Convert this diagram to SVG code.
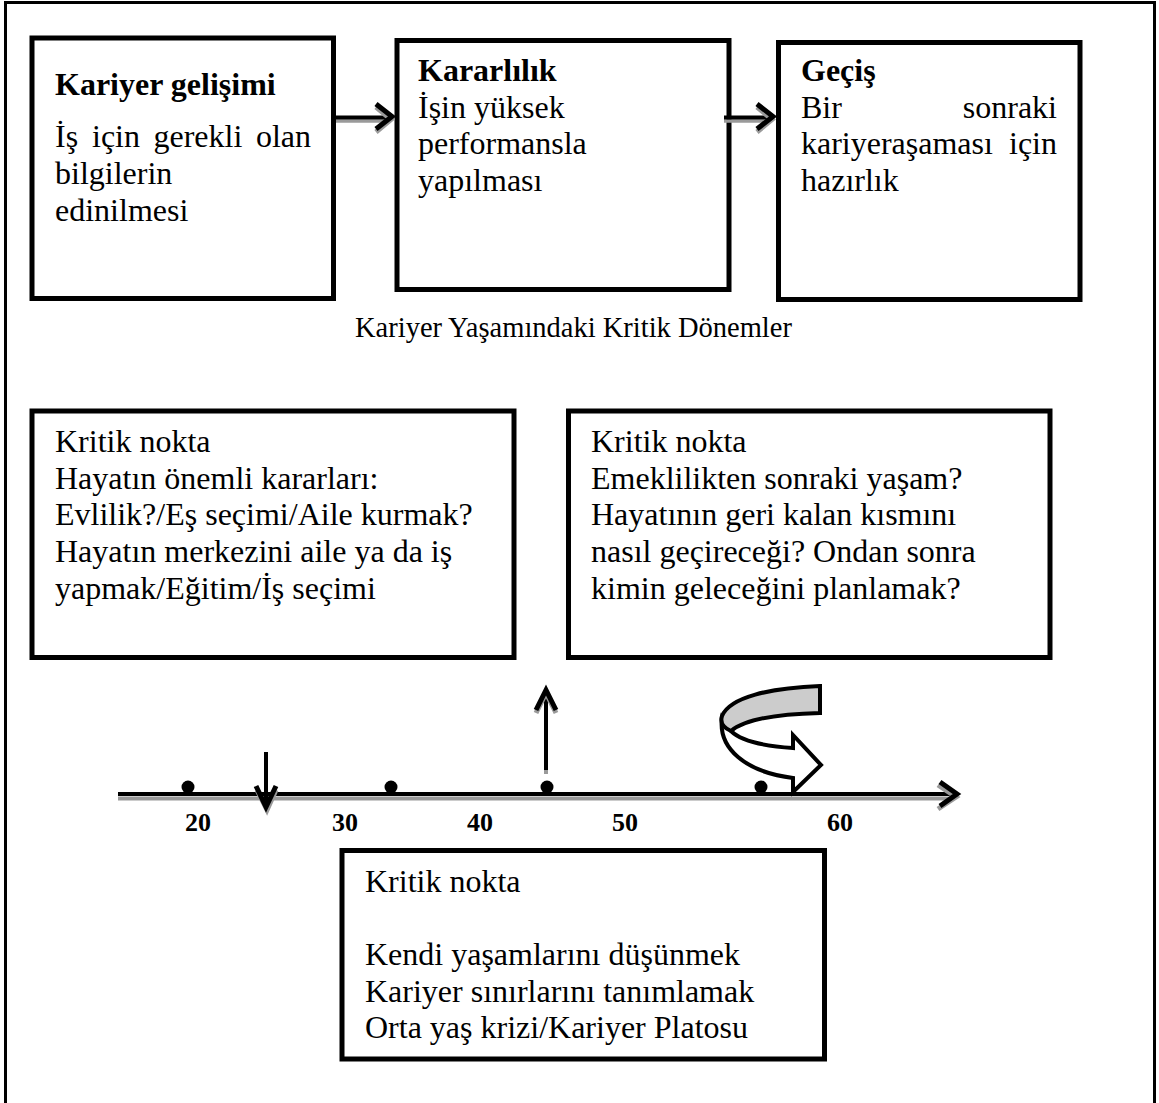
<svg xmlns="http://www.w3.org/2000/svg" width="1159" height="1103" viewBox="0 0 1159 1103">
<style>
.box{fill:#fff;stroke:#000;stroke-width:5}
.t{font-family:"Liberation Serif","Times New Roman",serif;font-size:32px;fill:#000}
.b{font-weight:bold}
.cap{font-size:28.5px}
.num{font-size:26px;font-weight:bold}
.shaft{stroke:#000;stroke-width:4;fill:none}
.shade{stroke:#9a9a9a;fill:none}
.head{stroke:#000;stroke-width:5;fill:none;stroke-linejoin:miter}
.headsh{stroke:#9a9a9a;stroke-width:5;fill:none;stroke-linejoin:miter}
.dot{fill:#000}
</style>
<rect width="1159" height="1103" fill="#fff"/>
<path d="M5.5,1103V2.5H1154.5V1103" fill="none" stroke="#000" stroke-width="3"/>

<g id="career-development">
<rect class="box" x="32" y="38" width="301.5" height="260.5"/>
<text class="t b" x="55" y="95">Kariyer gelişimi</text>
<text class="t" y="147"><tspan x="55">İş</tspan><tspan x="92">için</tspan><tspan x="153.5">gerekli</tspan><tspan x="311" text-anchor="end">olan</tspan></text>
<text class="t" x="55" y="184">bilgilerin</text>
<text class="t" x="55" y="221">edinilmesi</text>
</g>

<g id="commitment">
<rect class="box" x="397" y="40.5" width="332" height="249"/>
<text class="t b" x="418" y="81">Kararlılık</text>
<text class="t" x="418" y="117.5">İşin yüksek</text>
<text class="t" x="418" y="154">performansla</text>
<text class="t" x="418" y="190.5">yapılması</text>
</g>

<g id="transition">
<rect class="box" x="778.5" y="42.5" width="301.5" height="257"/>
<text class="t b" x="801" y="81">Geçiş</text>
<text class="t" y="117.5"><tspan x="801">Bir</tspan><tspan x="1057" text-anchor="end">sonraki</tspan></text>
<text class="t" y="154"><tspan x="801">kariyeraşaması</tspan><tspan x="1057" text-anchor="end">için</tspan></text>
<text class="t" x="801" y="190.5">hazırlık</text>
</g>

<g id="caption">
<text class="t cap" x="355" y="337">Kariyer Yaşamındaki Kritik Dönemler</text>
</g>

<g id="critical-early">
<rect class="box" x="32" y="411" width="482" height="246.5"/>
<text class="t" x="55" y="452">Kritik nokta</text>
<text class="t" x="55" y="488.7">Hayatın önemli kararları:</text>
<text class="t" x="55" y="525.4">Evlilik?/Eş seçimi/Aile kurmak?</text>
<text class="t" x="55" y="562.1">Hayatın merkezini aile ya da iş</text>
<text class="t" x="55" y="598.8">yapmak/Eğitim/İş seçimi</text>
</g>

<g id="critical-late">
<rect class="box" x="568.5" y="411" width="481.5" height="246.5"/>
<text class="t" x="591" y="452">Kritik nokta</text>
<text class="t" x="591" y="488.7">Emeklilikten sonraki yaşam?</text>
<text class="t" x="591" y="525.4">Hayatının geri kalan kısmını</text>
<text class="t" x="591" y="562.1">nasıl geçireceği? Ondan sonra</text>
<text class="t" x="591" y="598.8">kimin geleceğini planlamak?</text>
</g>

<g id="critical-mid">
<rect class="box" x="342" y="850.5" width="482.5" height="208.5"/>
<text class="t" x="365" y="892">Kritik nokta</text>
<text class="t" x="365" y="965">Kendi yaşamlarını düşünmek</text>
<text class="t" x="365" y="1001.7">Kariyer sınırlarını tanımlamak</text>
<text class="t" x="365" y="1038.4">Orta yaş krizi/Kariyer Platosu</text>
</g>

<g id="timeline">
<circle class="dot" cx="188" cy="787" r="6.5"/>
<circle class="dot" cx="391" cy="787" r="6.5"/>
<circle class="dot" cx="547" cy="787" r="6.5"/>
<circle class="dot" cx="761" cy="787" r="6.5"/>
<text class="t num" x="185" y="831">20</text>
<text class="t num" x="332" y="831">30</text>
<text class="t num" x="467" y="831">40</text>
<text class="t num" x="612" y="831">50</text>
<text class="t num" x="827" y="831">60</text>
</g>

<g id="connectors">
<!-- top arrows -->
<line class="shade" x1="336" y1="121" x2="388" y2="121" stroke-width="3.5"/>
<line class="shaft" x1="336" y1="117.5" x2="390" y2="117.5"/>
<polyline class="headsh" points="376,107 391,119.5 376,132"/>
<polyline class="head" points="376,104 392,116.5 376,129"/>

<line class="shade" x1="724" y1="121" x2="771" y2="121" stroke-width="3.5"/>
<line class="shaft" x1="724" y1="117.5" x2="773" y2="117.5"/>
<polyline class="headsh" points="757,107 772,119.5 757,132"/>
<polyline class="head" points="757,104 773,116.5 757,129"/>

<!-- timeline axis -->
<line class="shade" x1="118" y1="798.5" x2="952" y2="798.5" stroke-width="4"/>
<line class="shaft" x1="118" y1="794" x2="954" y2="794"/>
<polyline class="headsh" points="938,785 956,797 938,809"/>
<polyline class="head" points="940,782 957,794 940,806"/>

<!-- down arrow -->
<line class="shaft" x1="266" y1="752" x2="266" y2="806"/>
<polyline class="headsh" points="257,790 267,810 276,790"/>
<polyline class="head" points="256,786 266,807 276,786"/>

<!-- up arrow -->
<line class="shade" x1="546" y1="735" x2="546" y2="774" stroke-width="4"/>
<line class="shaft" x1="546" y1="692" x2="546" y2="770"/>
<polyline class="headsh" points="536,713 546,693 556,713"/>
<polyline class="head" points="536,710 546,690 556,710"/>

<!-- curved arrow -->
<path d="M722,718 C718,748 745,772 793,778 L793,792 L821,765 L793,735 L793,748 C762,746 740,740 731,731 Z" fill="#fff" stroke="#000" stroke-width="4" stroke-linejoin="miter"/>
<path d="M820,686 L820,713 C778,714 745,719 731,731 C722,727 720,722 722,716 C730,697 770,688 820,686 Z" fill="#cccccc" stroke="#000" stroke-width="4" stroke-linejoin="miter"/>
</g>
</svg>
